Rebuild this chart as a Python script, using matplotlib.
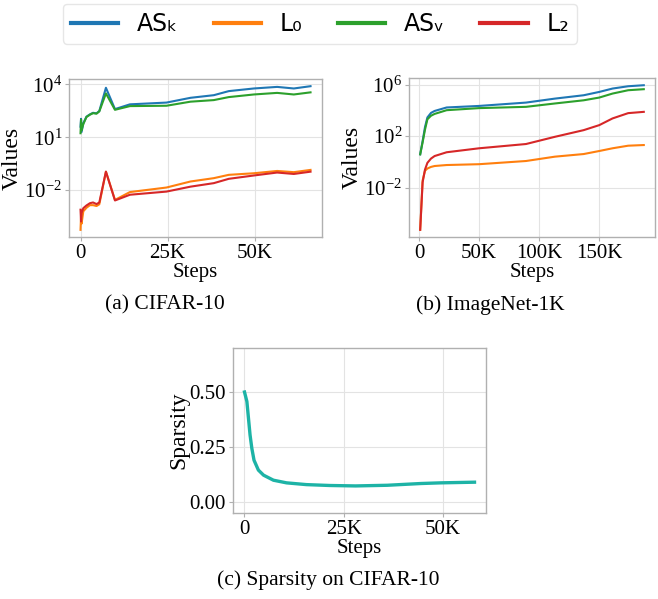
import matplotlib
matplotlib.use("Agg")
import matplotlib.pyplot as plt
from matplotlib.lines import Line2D
from matplotlib.ticker import FuncFormatter, NullLocator

# ---------------- data ----------------
# (a) CIFAR-10
cifar_steps = [0, 150, 300, 800, 1700, 2700, 3600, 4600, 5400, 7300, 9900, 14200,
               24700, 31600, 38300, 42600, 49800, 56500, 61300, 66100]
cifar_ask = [40, 112, 20, 63, 148, 200, 245, 229, 309, 6460, 398, 741,
             933, 1740, 2450, 4170, 5890, 7240, 5890, 7940]
cifar_asv = [17, 100, 25, 56, 141, 191, 234, 219, 295, 3090, 363, 589,
             617, 1050, 1290, 1910, 2690, 3310, 2690, 3550]
cifar_l0 = [5.6e-5, 3.2e-4, 1.26e-4, 6.3e-4, 1.0e-3, 1.41e-3, 1.41e-3, 1.26e-3, 1.58e-3, 0.112, 2.8e-3, 7.8e-3,
            0.0141, 0.031, 0.048, 0.074, 0.091, 0.123, 0.105, 0.141]
cifar_l2 = [7.8e-4, 1.66e-4, 5.0e-4, 9.5e-4, 1.35e-3, 1.82e-3, 2.0e-3, 1.62e-3, 2.0e-3, 0.112, 2.6e-3, 5.5e-3,
            8.3e-3, 0.0158, 0.025, 0.044, 0.068, 0.1, 0.083, 0.112]

# (b) ImageNet-1K
inet_steps = [1000, 3000, 5000, 7000, 10000, 13000, 23000, 50000, 89000, 113000,
              137000, 150000, 161000, 174000, 187000]
inet_ask = [3.8, 40, 500, 2800, 6300, 8900, 1.66e4, 2.19e4, 3.98e4, 8.1e4,
            1.48e5, 2.69e5, 4.9e5, 7.4e5, 8.9e5]
inet_asv = [3.8, 32, 316, 2000, 3800, 5250, 1.02e4, 1.48e4, 1.86e4, 3.39e4,
            6.0e4, 9.8e4, 2.0e5, 3.63e5, 4.37e5]
inet_l0 = [5.2e-6, 0.035, 0.2, 0.30, 0.40, 0.47, 0.56, 0.65, 1.15, 2.5,
           4.0, 6.9, 11.2, 17.8, 20]
inet_l2 = [5.2e-6, 0.025, 0.25, 0.83, 1.78, 2.8, 5.5, 11.2, 24, 87,
           288, 708, 2340, 6030, 7590]

# (c) Sparsity on CIFAR-10
sp_steps = [0, 600, 1000, 1400, 1850, 2400, 3500, 4800, 7300, 10600, 15600,
            21500, 28000, 36000, 44500, 49500, 58000]
sp_vals = [0.50, 0.457, 0.381, 0.305, 0.244, 0.19, 0.145, 0.122, 0.099, 0.087,
           0.079, 0.075, 0.073, 0.076, 0.084, 0.087, 0.09]

legend_labels = ["AS\u2096", "L\u2080", "AS\u1d65", "L\u2082"]
colors = ["#1f77b4", "#ff7f0e", "#2ca02c", "#d62728"]
subcaptions = ["(a) CIFAR-10", "(b) ImageNet-1K", "(c) Sparsity on CIFAR-10"]

# ---------------- style ----------------
plt.rcParams['font.family'] = ['Liberation Serif', 'DejaVu Serif']
plt.rcParams['mathtext.fontset'] = 'stix'
FS = 15
LFS = 17

fig = plt.figure(figsize=(6.58, 5.99), dpi=100)

def kfmt(x, pos):
    if x == 0:
        return "0"
    return f"{int(round(x / 1000))}K"

def style(ax):
    ax.grid(True, color="#e3e3e3", linewidth=0.8)
    ax.set_axisbelow(True)
    for s in ax.spines.values():
        s.set_color("#b0b0b0")
        s.set_linewidth(1.0)
    ax.tick_params(labelsize=FS, length=3, width=0.8, color="#b0b0b0", pad=2)
    ax.xaxis.set_major_formatter(FuncFormatter(kfmt))

# (a)
axa = fig.add_axes([0.1049, 0.6043, 0.3845, 0.2638])
axa.plot(cifar_steps, cifar_ask, color=colors[0], lw=1.5)
axa.plot(cifar_steps, cifar_l0, color=colors[1], lw=1.5)
axa.plot(cifar_steps, cifar_asv, color=colors[2], lw=1.5)
axa.plot(cifar_steps, cifar_l2, color=colors[3], lw=1.5)
axa.set_yscale('log')
axa.set_yticks([1e-2, 1e1, 1e4])
axa.yaxis.set_minor_locator(NullLocator())
axa.set_xticks([0, 25000, 50000])
style(axa)
axa.set_xlabel("Steps", fontsize=FS, labelpad=0)
axa.set_ylabel("Values", fontsize=LFS, labelpad=1)

# (b)
axb = fig.add_axes([0.6216, 0.6043, 0.3738, 0.2655])
axb.plot(inet_steps, inet_ask, color=colors[0], lw=1.5)
axb.plot(inet_steps, inet_l0, color=colors[1], lw=1.5)
axb.plot(inet_steps, inet_asv, color=colors[2], lw=1.5)
axb.plot(inet_steps, inet_l2, color=colors[3], lw=1.5)
axb.set_yscale('log')
axb.set_yticks([1e-2, 1e2, 1e6])
axb.yaxis.set_minor_locator(NullLocator())
axb.set_xticks([0, 50000, 100000, 150000])
style(axb)
axb.set_xlabel("Steps", fontsize=FS, labelpad=0)
axb.set_ylabel("Values", fontsize=LFS, labelpad=1)

# (c)
axc = fig.add_axes([0.3541, 0.1436, 0.3845, 0.2754])
axc.plot(sp_steps, sp_vals, color="#1db3a6", lw=2.4)
axc.set_ylim(-0.05, 0.70)
axc.set_yticks([0.0, 0.25, 0.5])
axc.yaxis.set_major_formatter(FuncFormatter(lambda v, p: f"{v:.2f}"))
axc.set_xticks([0, 25000, 50000])
style(axc)
axc.set_xlabel("Steps", fontsize=FS, labelpad=0)
axc.set_ylabel("Sparsity", fontsize=LFS, labelpad=0)

# sub-captions
CFS = 15.5
fig.text(165 / 658, 1 - 305 / 599, subcaptions[0], ha='center', va='center', fontsize=CFS)
fig.text(490 / 658, 1 - 305 / 599, subcaptions[1], ha='center', va='center', fontsize=CFS)
fig.text(328 / 658, 1 - 580 / 599, subcaptions[2], ha='center', va='center', fontsize=CFS)

# legend
handles = [Line2D([], [], color=c, lw=3) for c in colors]
leg = fig.legend(handles, legend_labels, loc='upper center', bbox_to_anchor=(320 / 658, 1.0),
                 ncol=4, frameon=True, prop={'family': 'DejaVu Sans', 'size': 17},
                 handlelength=2.0, handletextpad=0.8, columnspacing=1.5,
                 borderpad=0.35, borderaxespad=0.15, fancybox=True)
leg.get_frame().set_edgecolor("#e0e0e0")
leg.get_frame().set_linewidth(1.0)

fig.savefig("out.png", dpi=100)
